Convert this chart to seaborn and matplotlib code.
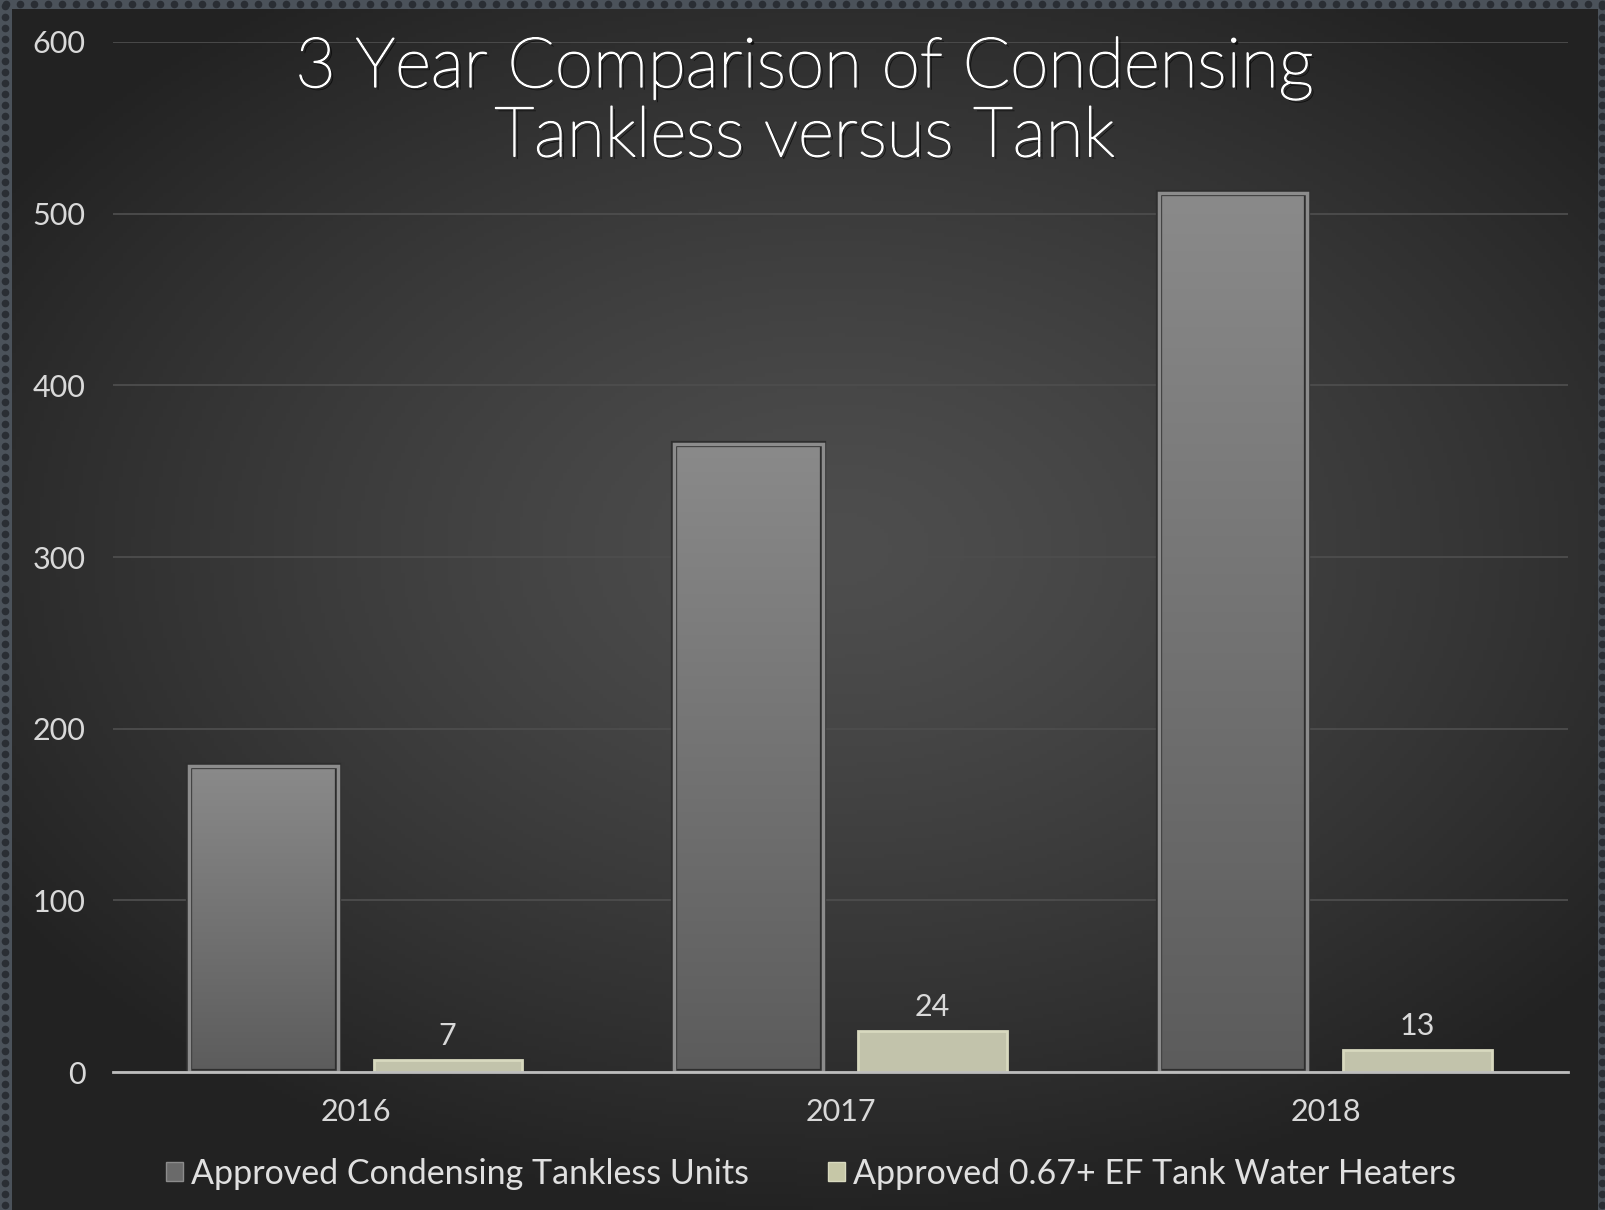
import numpy as np
import pandas as pd
import matplotlib
matplotlib.use("Agg")
import matplotlib.pyplot as plt
import matplotlib.patheffects as pe
from matplotlib.patches import Patch
from matplotlib.colors import LinearSegmentedColormap
import seaborn as sns

# data
years = ["2016", "2017", "2018"]
tankless_units = [178, 366, 512]
tank_heaters = [7, 24, 13]
series_names = ["Approved Condensing Tankless Units",
                "Approved 0.67+ EF Tank Water Heaters"]

df = pd.DataFrame({
    "year": years * 2,
    "count": tankless_units + tank_heaters,
    "series": [series_names[0]] * 3 + [series_names[1]] * 3,
})

sns.set_theme(style="dark")
plt.rcParams["font.family"] = ["Lato", "DejaVu Sans"]

W, H = 1606, 1210
fig = plt.figure(figsize=(W / 100, H / 100), dpi=100)
fig.patch.set_facecolor("#4b525a")

# background: dotted frame + radial gradient panel
bg = fig.add_axes([0, 0, 1, 1], zorder=-10)
bg.set_xlim(0, W)
bg.set_ylim(H, 0)
bg.axis("off")
dx = np.arange(6, W, 14)
dy = np.arange(6, H, 11)
bg.scatter(dx, np.full_like(dx, 4), s=30, color="#2a2e34", lw=0)
bg.scatter(np.full_like(dy, 5), dy, s=30, color="#2a2e34", lw=0)
bg.scatter(np.full_like(dy, 1602), dy, s=30, color="#2a2e34", lw=0)

gy, gx = np.mgrid[0:1:300j, 0:1:400j]
d = np.sqrt(((gx - 0.52) / 0.9) ** 2 + ((gy - 0.45) / 0.8) ** 2)
v = 78 - 44 * np.clip(d / 0.7, 0, 1) ** 1.3
panel = np.dstack([v, v, v]) / 255.0
bg.imshow(panel, extent=(12, 1598, H, 9), aspect="auto", zorder=1)
bg.set_xlim(0, W)
bg.set_ylim(H, 0)

# main chart
ax = fig.add_axes([0.0704, 0.114, 0.9059, 0.8513])
ax.patch.set_alpha(0)
sns.barplot(data=df, x="year", y="count", hue="series",
            palette=["#6f6f6f", "#c6c7a7"], width=0.76, gap=0.195,
            legend=False, ax=ax, zorder=3)

# gradient fill on the tankless bars
gray_cmap = LinearSegmentedColormap.from_list("g", ["#5c5c5c", "#8a8a8a"])
grad = np.linspace(1, 0, 256).reshape(-1, 1)
for bar in ax.containers[0]:
    x0, w, h = bar.get_x(), bar.get_width(), bar.get_height()
    ax.imshow(grad, extent=(x0, x0 + w, 0, h), aspect="auto",
              cmap=gray_cmap, zorder=3)
    bar.set_facecolor("none")
    bar.set_edgecolor("#8c8c8c")
    bar.set_linewidth(2.5)
    bar.set_zorder(4)
    bar.set_path_effects([pe.withStroke(linewidth=4.5, foreground="#2e2e2e")])
for bar in ax.containers[1]:
    bar.set_edgecolor("#d8d9bf")
    bar.set_linewidth(2)
    bar.set_zorder(4)
ax.set_xlim(-0.5, 2.5)
ax.set_ylim(0, 600)
ax.set_yticks(range(0, 601, 100))

ax.bar_label(ax.containers[1], padding=7, color="#d9d9d9", fontsize=22)

ax.yaxis.grid(True, color="#4d4d4d", lw=1.3)
ax.xaxis.grid(False)
ax.set_axisbelow(True)
for s in ["left", "right", "top"]:
    ax.spines[s].set_visible(False)
ax.spines["bottom"].set_color("#bdbdbd")
ax.spines["bottom"].set_linewidth(2)
ax.spines["bottom"].set_zorder(5)
ax.tick_params(axis="y", length=0, pad=20, labelsize=22, labelcolor="#d9d9d9")
ax.tick_params(axis="x", length=0, pad=19, labelsize=22, labelcolor="#d9d9d9")
ax.set_xlabel("")
ax.set_ylabel("")

fig.text(0.501, 0.915, "3 Year Comparison of Condensing\nTankless versus Tank",
         ha="center", va="center", fontsize=50, fontweight="light",
         color="white", linespacing=1.17,
         path_effects=[pe.withSimplePatchShadow(offset=(2, -2), shadow_rgbFace="black", alpha=0.7),
                       pe.withStroke(linewidth=1.1, foreground="white")])

handles = [Patch(facecolor="#6a6a6a", edgecolor="#8c8c8c"),
           Patch(facecolor="#c6c7a7", edgecolor="#d8d9bf")]
fig.legend(handles, series_names, loc="center", bbox_to_anchor=(0.505, 0.030),
           ncol=2, frameon=False, fontsize=24.5, labelcolor="#e0e0e0",
           handlelength=0.5, handleheight=0.5, handletextpad=0.25,
           columnspacing=2.3)

fig.savefig("out.png", dpi=100)
